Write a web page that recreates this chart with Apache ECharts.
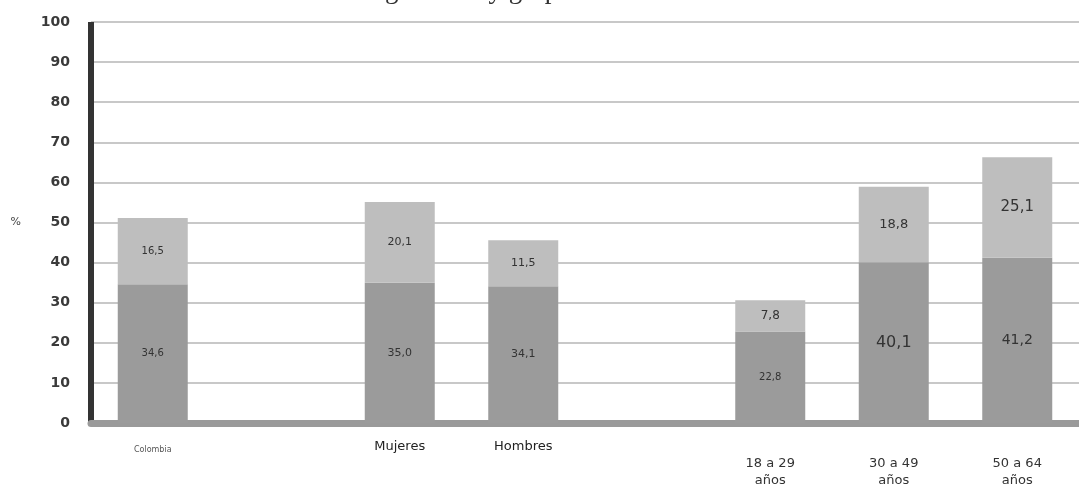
<!DOCTYPE html>
<html>
<head>
<meta charset="utf-8">
<script src="https://cdn.jsdelivr.net/npm/echarts@6/dist/echarts.min.js"></script>
<style>
  html, body { margin: 0; padding: 0; background: #fff; }
  #chart { width: 1079px; height: 494px; }
</style>
</head>
<body>
<div id="chart"></div>
<script>
// categorias (las vacias dejan el hueco entre grupos)
var categorias = ['Colombia', '', 'Mujeres', 'Hombres', '', '18 a 29\naños', '30 a 49\naños', '50 a 64\naños'];
var valoresBase = [34.6, '-', 35.0, 34.1, '-', 22.8, 40.1, 41.2];
var valoresSup = [16.5, '-', 20.1, 11.5, '-', 7.8, 18.8, 25.1];
var ticksY = [0, 10, 20, 30, 40, 50, 60, 70, 80, 90, 100];

// tamaño de letra de cada etiqueta, como en la figura
var letraBase = [10, 0, 11, 11, 0, 10, 16, 14];
var letraSup = [10, 0, 11, 11, 0, 12, 13, 15];

function coma(p) {
    return p.value.toFixed(1).replace('.', ',');
}

function armar(valores, letras) {
    return valores.map(function (v, i) {
        if (v === '-') return v;
        return { value: v, label: { fontSize: letras[i] } };
    });
}

var myChart = echarts.init(document.getElementById('chart'));
myChart.setOption({
    backgroundColor: '#fff',
    animation: false,
    title: {
        text: 'Obesidad abdominal según sexo y grupo de edad',
        left: 128,
        top: -28,
        textStyle: {
            fontFamily: 'Liberation Serif',
            fontWeight: 'normal',
            fontSize: 27,
            color: '#333'
        }
    },
    grid: { left: 91, top: 22, bottom: 71, width: 1000 },
    xAxis: {
        type: 'category',
        data: categorias,
        axisLine: { lineStyle: { color: '#9a9a9a', width: 7 } },
        axisTick: { show: false },
        axisLabel: {
            interval: 0,
            margin: 17,
            fontFamily: 'DejaVu Sans',
            color: '#333',
            formatter: function (v, i) {
                if (i === 0) return '{chico|' + v + '}';
                if (i >= 5) return '{edad|' + v + '}';
                return '{medio|' + v + '}';
            },
            rich: {
                chico: { fontSize: 8, color: '#555', fontFamily: 'DejaVu Sans', padding: [6, 0, 0, 0] },
                medio: { fontSize: 13, color: '#222', fontFamily: 'DejaVu Sans' },
                edad: { fontSize: 13, color: '#333', fontFamily: 'DejaVu Sans', lineHeight: 17, padding: [31, 0, 0, 0] }
            }
        }
    },
    yAxis: {
        type: 'value',
        min: 0,
        max: 100,
        interval: 10,
        name: '%',
        nameLocation: 'middle',
        nameRotate: 0,
        nameGap: 70,
        nameTextStyle: { fontFamily: 'DejaVu Sans', fontSize: 11, color: '#444' },
        axisLine: { show: true, lineStyle: { color: '#333', width: 6, cap: 'butt' } },
        axisTick: { show: false },
        axisLabel: {
            margin: 21,
            fontFamily: 'DejaVu Sans',
            fontSize: 14,
            fontWeight: 'bold',
            color: '#3a3a3a',
            formatter: function (v) { return ticksY.indexOf(v) >= 0 ? v : ''; }
        },
        splitLine: { lineStyle: { color: '#c8c8c8', width: 2 } }
    },
    series: [{
        name: 'base',
        type: 'bar',
        stack: 'total',
        barWidth: 70,
        data: armar(valoresBase, letraBase),
        itemStyle: { color: '#9b9b9b' },
        label: {
            show: true,
            position: 'inside',
            fontFamily: 'DejaVu Sans',
            color: '#333',
            formatter: coma
        }
    }, {
        name: 'superior',
        type: 'bar',
        stack: 'total',
        barWidth: 70,
        data: armar(valoresSup, letraSup),
        itemStyle: { color: '#bebebe' },
        label: {
            show: true,
            position: 'inside',
            fontFamily: 'DejaVu Sans',
            color: '#333',
            formatter: coma
        }
    }]
});
</script>
</body>
</html>
